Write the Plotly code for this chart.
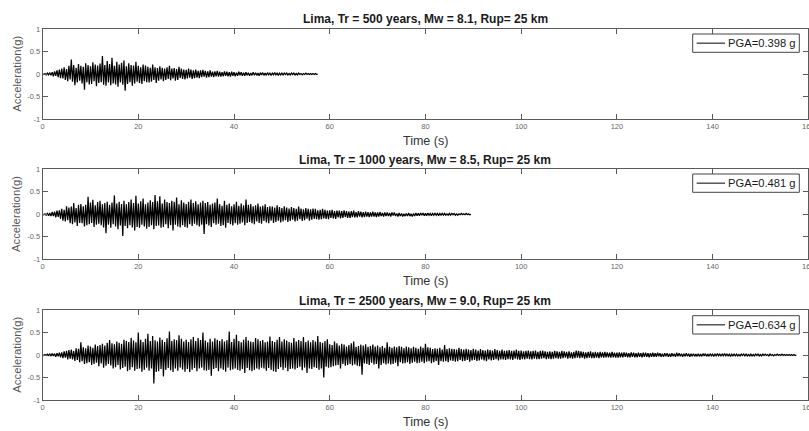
import numpy as np
import plotly.graph_objects as go

# Sampling interval of the plotted peak/trough sequences (s)
DT = 0.25

# Alternating peak / trough accelerations (g), one value per DT, 2 s per row
ACC_TR500 = [
    .00, -.01, .01, -.02, .02, -.02, .03, -.03,
    .04, -.05, .06, -.04, .08, -.07, .10, -.09,
    .12, -.10, .15, -.13, .11, -.16, .18, -.12,
    .32, -.17, .20, -.25, .14, -.19, .22, -.15,
    .18, -.21, .16, -.35, .24, -.18, .20, -.23,
    .17, -.22, .26, -.16, .21, -.27, .19, -.20,
    .23, -.18, .398, -.24, .20, -.26, .29, -.19,
    .22, -.25, .36, -.21, .18, -.23, .27, -.28,
    .21, -.19, .25, -.24, .30, -.37, .17, -.22,
    .24, -.18, .20, -.26, .19, -.21, .27, -.17,
    .18, -.20, .15, -.22, .21, -.16, .19, -.18,
    .16, -.19, .14, -.17, .21, -.13, .15, -.20,
    .13, -.15, .17, -.12, .14, -.16, .12, -.13,
    .15, -.11, .18, -.14, .12, -.10, .13, -.15,
    .11, -.13, .16, -.09, .12, -.11, .10, -.12,
    .09, -.10, .12, -.08, .10, -.11, .08, -.09,
    .10, -.08, .07, -.09, .08, -.07, .09, -.06,
    .07, -.08, .06, -.07, .08, -.06, .05, -.07,
    .06, -.05, .07, -.06, .05, -.06, .04, -.05,
    .06, -.04, .05, -.05, .04, -.06, .05, -.04,
    .04, -.05, .03, -.04, .05, -.03, .04, -.04,
    .03, -.04, .04, -.03, .03, -.04, .02, -.03,
    .04, -.03, .03, -.03, .02, -.04, .03, -.02,
    .03, -.03, .02, -.03, .03, -.02, .02, -.03,
    .02, -.02, .03, -.02, .02, -.03, .02, -.02,
    .02, -.02, .02, -.01, .02, -.02, .01, -.02,
    .02, -.01, .02, -.02, .01, -.02, .02, -.01,
    .01, -.02, .01, -.01, .02, -.01, .01, -.01,
    .01, -.01, .01, -.01, .01, -.01, .00,
]

ACC_TR1000 = [
    .00, -.01, .01, -.02, .02, -.03, .03, -.04,
    .05, -.04, .06, -.07, .08, -.06, .09, -.10,
    .12, -.14, .10, -.16, .18, -.13, .15, -.20,
    .17, -.22, .25, -.18, .14, -.26, .21, -.19,
    .23, -.20, .18, -.27, .21, -.24, .39, -.22,
    .26, -.19, .32, -.28, .20, -.23, .27, -.21,
    .30, -.24, .22, -.29, .25, -.42, .28, -.23,
    .21, -.30, .26, -.22, .42, -.27, .24, -.33,
    .28, -.25, .23, -.481, .30, -.26, .22, -.31,
    .27, -.24, .33, -.29, .25, -.36, .41, -.28,
    .24, -.30, .29, -.23, .35, -.27, .22, -.32,
    .26, -.28, .31, -.24, .27, -.33, .43, -.26,
    .29, -.25, .40, -.30, .24, -.28, .33, -.22,
    .27, -.31, .25, -.24, .30, -.36, .28, -.23,
    .37, -.27, .22, -.29, .31, -.24, .26, -.28,
    .23, -.30, .28, -.22, .33, -.26, .25, -.21,
    .29, -.24, .22, -.27, .26, -.23, .30, -.44,
    .25, -.22, .27, -.25, .21, -.28, .24, -.20,
    .26, -.23, .35, -.21, .22, -.26, .19, -.24,
    .30, -.30, .21, -.19, .24, -.22, .18, -.25,
    .22, -.20, .28, -.23, .19, -.21, .24, -.18,
    .20, -.24, .33, -.19, .21, -.17, .23, -.20,
    .18, -.22, .20, -.16, .24, -.19, .17, -.21,
    .19, -.15, .22, -.18, .16, -.20, .18, -.14,
    .17, -.19, .15, -.17, .20, -.14, .16, -.18,
    .14, -.16, .18, -.13, .15, -.17, .13, -.15,
    .16, -.12, .14, -.16, .12, -.14, .17, -.11,
    .13, -.15, .11, -.13, .14, -.10, .12, -.14,
    .11, -.12, .13, -.10, .12, -.11, .09, -.12,
    .10, -.11, .12, -.09, .10, -.10, .08, -.11,
    .09, -.08, .10, -.09, .07, -.10, .08, -.07,
    .08, -.09, .07, -.08, .09, -.06, .07, -.08,
    .06, -.08, .07, -.06, .08, -.07, .05, -.07,
    .07, -.05, .06, -.07, .05, -.06, .06, -.05,
    .05, -.06, .04, -.05, .06, -.05, .04, -.06,
    .04, -.05, .05, -.04, .03, -.05, .04, -.04,
    .04, -.04, .03, -.05, .04, -.03, .04, -.04,
    .02, -.05, .03, -.04, .02, -.05, .01, -.04,
    .02, -.04, .03, -.04, .01, -.05, .02, -.04,
    .03, -.03, .02, -.03, .03, -.02, .03, -.03,
    .02, -.03, .03, -.02, .02, -.03, .02, -.02,
    .03, -.02, .02, -.03, .02, -.02, .02, -.02,
    .02, -.02, .01, -.02, .02, -.02, .02, -.01,
    .02, -.02, .01, -.02, .01, -.01, .02, -.01,
    .01, -.01, .02, -.01, .01, -.01, .00,
]

ACC_TR2500 = [
    .00, -.01, .01, -.01, .02, -.01, .02, -.02,
    .03, -.02, .03, -.04, .04, -.03, .05, -.05,
    .06, -.07, .08, -.06, .09, -.10, .11, -.08,
    .12, -.10, .09, -.13, .15, -.11, .14, -.16,
    .28, -.14, .17, -.20, .15, -.18, .21, -.16,
    .19, -.22, .16, -.20, .23, -.17, .20, -.25,
    .22, -.19, .25, -.28, .21, -.24, .27, -.20,
    .33, -.23, .26, -.30, .24, -.27, .30, -.22,
    .27, -.32, .25, -.29, .34, -.26, .31, -.36,
    .29, -.33, .38, -.27, .32, -.35, .28, -.31,
    .50, -.30, .34, -.37, .29, -.33, .36, -.28,
    .47, -.35, .31, -.30, .42, -.634, .33, -.38,
    .30, -.36, .39, -.31, .34, -.48, .29, -.33,
    .37, -.29, .52, -.34, .31, -.38, .35, -.30,
    .33, -.35, .44, -.28, .36, -.32, .30, -.37,
    .34, -.31, .29, -.38, .35, -.33, .40, -.29,
    .31, -.36, .38, -.30, .33, -.28, .50, -.34,
    .32, -.35, .28, -.33, .36, -.46, .30, -.31,
    .37, -.29, .34, -.36, .31, -.30, .35, -.33,
    .30, -.37, .33, -.28, .52, -.34, .29, -.32,
    .36, -.30, .45, -.33, .31, -.35, .28, -.31,
    .34, -.40, .40, -.29, .32, -.34, .30, -.36,
    .29, -.33, .38, -.30, .35, -.32, .31, -.28,
    .33, -.30, .28, -.35, .30, -.29, .41, -.33,
    .31, -.36, .29, -.38, .34, -.31, .40, -.27,
    .30, -.33, .35, -.28, .32, -.36, .29, -.31,
    .27, -.30, .38, -.32, .30, -.29, .33, -.26,
    .31, -.34, .40, -.28, .29, -.40, .32, -.30,
    .28, -.31, .33, -.27, .30, -.29, .42, -.33,
    .29, -.30, .27, -.50, .31, -.26, .35, -.28,
    .24, -.27, .22, -.25, .30, -.23, .26, -.22,
    .21, -.30, .25, -.20, .23, -.24, .19, -.22,
    .22, -.20, .26, -.23, .30, -.21, .18, -.24,
    .20, -.25, .23, -.44, .21, -.19, .24, -.20,
    .18, -.22, .20, -.17, .23, -.21, .19, -.20,
    .21, -.30, .17, -.22, .20, -.18, .16, -.21,
    .28, -.19, .18, -.21, .16, -.20, .19, -.17,
    .17, -.25, .20, -.16, .18, -.19, .15, -.18,
    .19, -.16, .17, -.20, .15, -.17, .18, -.15,
    .16, -.18, .14, -.17, .19, -.15, .16, -.18,
    .25, -.15, .17, -.14, .16, -.18, .13, -.16,
    .15, -.13, .14, -.22, .16, -.14, .12, -.15,
    .22, -.14, .13, -.16, .15, -.12, .14, -.13,
    .13, -.15, .12, -.14, .16, -.11, .13, -.14,
    .12, -.13, .14, -.11, .12, -.15, .11, -.12,
    .14, -.11, .12, -.13, .10, -.12, .13, -.10,
    .11, -.12, .10, -.14, .12, -.10, .11, -.12,
    .10, -.11, .13, -.09, .11, -.12, .09, -.10,
    .12, -.10, .09, -.11, .10, -.09, .11, -.10,
    .09, -.11, .10, -.08, .12, -.10, .09, -.11,
    .10, -.09, .08, -.10, .09, -.08, .10, -.09,
    .08, -.10, .09, -.08, .10, -.09, .07, -.09,
    .09, -.08, .10, -.07, .08, -.09, .07, -.08,
    .08, -.09, .07, -.08, .09, -.07, .08, -.08,
    .07, -.08, .09, -.07, .08, -.06, .07, -.08,
    .08, -.07, .06, -.08, .07, -.07, .10, -.06,
    .09, -.07, .08, -.06, .07, -.08, .06, -.07,
    .07, -.06, .08, -.07, .06, -.07, .07, -.06,
    .06, -.07, .07, -.05, .06, -.06, .07, -.05,
    .06, -.05, .05, -.06, .07, -.05, .05, -.06,
    .05, -.06, .06, -.05, .05, -.05, .06, -.04,
    .05, -.05, .04, -.05, .06, -.04, .05, -.05,
    .04, -.05, .05, -.04, .04, -.05, .05, -.04,
    .05, -.04, .04, -.05, .04, -.04, .05, -.04,
    .04, -.04, .05, -.03, .04, -.04, .03, -.04,
    .04, -.03, .04, -.04, .03, -.04, .04, -.03,
    .03, -.04, .05, -.03, .04, -.03, .03, -.04,
    .03, -.03, .04, -.03, .03, -.04, .03, -.03,
    .03, -.03, .02, -.03, .03, -.03, .02, -.03,
    .03, -.02, .03, -.03, .02, -.03, .03, -.02,
    .02, -.03, .02, -.02, .03, -.02, .02, -.02,
    .02, -.02, .03, -.02, .02, -.02, .02, -.03,
    .02, -.02, .02, -.02, .02, -.02, .01, -.02,
    .02, -.01, .02, -.02, .02, -.02, .01, -.02,
    .02, -.02, .01, -.02, .02, -.01, .02, -.02,
    .01, -.02, .02, -.01, .02, -.01, .01, -.02,
    .02, -.01, .01, -.02, .01, -.01, .02, -.01,
    .01, -.01, .02, -.01, .01, -.01, .01, -.01,
    .01, -.01, .01, -.01, .01, -.01, .00,
]

TITLES = [
    "Lima, Tr = 500 years, Mw = 8.1, Rup= 25 km",
    "Lima, Tr = 1000 years, Mw = 8.5, Rup= 25 km",
    "Lima, Tr = 2500 years, Mw = 9.0, Rup= 25 km",
]
X_TICKS = [0, 20, 40, 60, 80, 100, 120, 140, 160]
Y_TICKS = [-1, -0.5, 0, 0.5, 1]
Y_TICK_TEXT = ["-1", "-0.5", "0", "0.5", "1"]
X_LABEL = "Time (s)"
Y_LABEL = "Acceleration(g)"

W, H = 809, 431
FONT = "Liberation Sans, Arial, sans-serif"
AX_COLOR = "#5a5a5a"

# axes boxes in pixels
X_LEFT, X_RIGHT = 42.6, 808.3
PANELS = [(29.0, 119.0), (169.3, 259.3), (310.0, 400.0)]
# legend boxes: left, right, top, height (px)
LEG_L, LEG_R, LEG_H = 692.7, 799.3, 18.3
LEGEND_TOP = [34.0, 174.0, 315.7]

records = [ACC_TR500, ACC_TR1000, ACC_TR2500]


def px(x):
    return x / W


def py(y):
    return 1 - y / H


fig = go.Figure()
annotations = []
shapes = []
x_dom = [px(X_LEFT), px(X_RIGHT)]
x_mid = px((X_LEFT + X_RIGHT) / 2)

for i, (acc, title, (top, bot), leg_top) in enumerate(zip(records, TITLES, PANELS, LEGEND_TOP)):
    n = i + 1
    sfx = "" if n == 1 else str(n)
    acc = np.asarray(acc, dtype=float)
    t = np.arange(acc.size) * DT
    pga = np.abs(acc).max()
    label = f"PGA={pga:.3f} g"

    fig.add_trace(go.Scatter(
        x=t, y=acc, mode="lines",
        line=dict(color="black", width=1.25, simplify=False),
        name=label, showlegend=False,
        xaxis="x" + sfx, yaxis="y" + sfx,
        hoverinfo="skip",
    ))

    common = dict(
        showline=True, linecolor=AX_COLOR, linewidth=1, mirror="ticks",
        ticks="inside", ticklen=5, tickcolor=AX_COLOR, tickwidth=1,
        showgrid=False, zeroline=False, automargin=False,
        tickfont=dict(family=FONT, size=7.5, color="#666666"),
        ticklabeloverflow="allow", fixedrange=True,
    )
    fig.update_layout(**{
        "xaxis" + sfx: dict(domain=x_dom, range=[0, 160], tickvals=X_TICKS,
                            anchor="y" + sfx, **common),
        "yaxis" + sfx: dict(domain=[py(bot), py(top)], range=[-1, 1], tickvals=Y_TICKS,
                            ticktext=Y_TICK_TEXT, anchor="x" + sfx, **common),
    })

    # legend box with line sample and PGA label
    leg_mid = leg_top + LEG_H / 2
    shapes.append(dict(
        type="rect", xref="paper", yref="paper",
        x0=px(LEG_L), x1=px(LEG_R), y0=py(leg_top + LEG_H), y1=py(leg_top),
        line=dict(color="#444444", width=1), fillcolor="white", layer="above",
    ))
    shapes.append(dict(
        type="line", xref="paper", yref="paper",
        x0=px(LEG_L + 4), x1=px(LEG_L + 32.3), y0=py(leg_mid), y1=py(leg_mid),
        line=dict(color="black", width=1), layer="above",
    ))
    annotations.append(dict(
        text=label, x=px(LEG_L + 33.5), y=py(leg_mid),
        xref="paper", yref="paper", xanchor="left", yanchor="middle",
        showarrow=False, font=dict(family=FONT, size=11.2, color="#1a1a1a"),
    ))

    annotations.append(dict(
        text=f"<b>{title}</b>", x=x_mid, y=py(top - 9.5),
        xref="paper", yref="paper", xanchor="center", yanchor="middle",
        showarrow=False, font=dict(family=FONT, size=12, color="#1a1a1a"),
    ))
    annotations.append(dict(
        text=X_LABEL, x=x_mid, y=py(bot + 22),
        xref="paper", yref="paper", xanchor="center", yanchor="middle",
        showarrow=False, font=dict(family=FONT, size=12.5, color="#333333"),
    ))
    annotations.append(dict(
        text=Y_LABEL, x=px(16.7), y=py((top + bot) / 2), textangle=-90,
        xref="paper", yref="paper", xanchor="center", yanchor="middle",
        showarrow=False, font=dict(family=FONT, size=11.3, color="#555555"),
    ))

fig.update_layout(
    width=W, height=H,
    margin=dict(l=0, r=0, t=0, b=0, autoexpand=False),
    paper_bgcolor="white", plot_bgcolor="white",
    annotations=annotations, shapes=shapes,
    font=dict(family=FONT),
)

fig.write_html("out.html", config={"displayModeBar": False})
